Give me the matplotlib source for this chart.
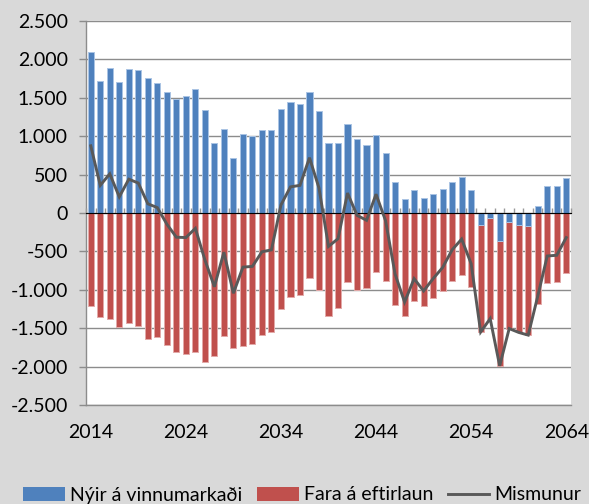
"""Nýir á vinnumarkaði vs. fara á eftirlaun, 2014-2064."""
import numpy as np
import matplotlib
matplotlib.use("Agg")
import matplotlib.pyplot as plt
from matplotlib.patches import Patch
from matplotlib.lines import Line2D
from matplotlib.ticker import FuncFormatter

years = list(range(2014, 2065))

# new entrants to the labour market
nyir = [2090, 1715, 1885, 1700, 1870, 1865, 1760, 1690, 1570, 1490,
        1520, 1610, 1335, 905, 1090, 710, 1030, 1005, 1085, 1075,
        1350, 1440, 1425, 1570, 1325, 905, 905, 1160, 970, 885,
        1010, 785, 405, 180, 295, 190, 250, 310, 410, 465,
        305, -150, -60, -365, -115, -150, -170, 95, 350, 350, 460]

# retirements
eftirlaun = [-1215, -1355, -1375, -1490, -1430, -1475, -1640, -1620, -1715, -1805,
             -1840, -1810, -1945, -1865, -1600, -1755, -1735, -1700, -1590, -1555,
             -1245, -1100, -1065, -850, -1000, -1340, -1240, -900, -1000, -980,
             -765, -885, -1200, -1340, -1150, -1205, -1105, -1020, -890, -805,
             -965, -1400, -1315, -1625, -1390, -1405, -1420, -1180, -910, -900, -780]

# difference
mismunur = [875, 360, 510, 210, 440, 390, 120, 70, -145, -315,
            -320, -200, -610, -960, -510, -1045, -705, -695, -505, -480,
            105, 340, 360, 720, 325, -435, -335, 260, -30, -95,
            245, -100, -795, -1160, -855, -1015, -855, -710, -480, -340,
            -660, -1550, -1375, -1990, -1505, -1555, -1590, -1085, -560, -550, -320]

year_ticks = [2014, 2024, 2034, 2044, 2054, 2064]

BLUE = "#4f81bd"
RED = "#c0504d"
LINE = "#595959"
GRID = "#8c8c8c"
BG = "#d9d9d9"

plt.rcParams["font.family"] = ["Lato", "DejaVu Sans"]

fig = plt.figure(figsize=(5.89, 5.04), dpi=100, facecolor=BG)
ax = fig.add_axes([86 / 589, 99 / 504, 485 / 589, 384 / 504])
ax.set_facecolor("white")

x = np.arange(len(years))
blue = np.array(nyir)
red = np.array(eftirlaun)
# Excel stacks negatives: red starts below a negative blue bar
red_bottom = np.minimum(blue, 0)

ax.bar(x, red, bottom=red_bottom, width=0.64, color=RED,
       edgecolor="#e3aaa9", linewidth=0.7, zorder=2)
ax.bar(x, blue, width=0.64, color=BLUE,
       edgecolor="#aac4e4", linewidth=0.7, zorder=2)
ax.plot(x, mismunur, color=LINE, linewidth=2.1, zorder=4,
        solid_joinstyle="miter")

ax.set_xlim(-0.5, len(years) - 0.5)
ax.set_ylim(-2500, 2500)
ax.set_yticks(np.arange(-2500, 2501, 500))
ax.yaxis.set_major_formatter(FuncFormatter(lambda v, p: f"{v:,.0f}".replace(",", ".")))
ax.grid(axis="y", color=GRID, linewidth=1.0)
ax.set_axisbelow(True)

ax.set_xticks([years.index(y) for y in year_ticks])
ax.set_xticklabels([str(y) for y in year_ticks])
ax.tick_params(axis="x", length=0, pad=14, labelsize=14, colors="black")
ax.tick_params(axis="y", length=5, width=1, color=GRID, pad=8, labelsize=14)

for side in ("top", "right"):
    ax.spines[side].set_visible(False)
for side in ("left", "bottom"):
    ax.spines[side].set_color(GRID)
    ax.spines[side].set_linewidth(1.0)

# category axis crossing at zero, ticks between the bars
zero = ax.secondary_xaxis(0.5)
zero.set_xticks(np.arange(-0.5, len(years), 1.0))
zero.set_xticklabels([])
zero.tick_params(axis="x", direction="out", length=3.5, width=1.0, color="#9a9a9a")
zero.spines["bottom"].set_color("#9a9a9a")
zero.spines["bottom"].set_linewidth(1.8)
zero.set_zorder(3)

handles = [Patch(facecolor=BLUE), Patch(facecolor=RED),
           Line2D([], [], color=LINE, linewidth=2.1)]
labels = ["Nýir á vinnumarkaði", "Fara á eftirlaun", "Mismunur"]
fig.legend(handles, labels, loc="center", bbox_to_anchor=(0.513, 9 / 504),
           ncol=3, frameon=False, fontsize=14, handlelength=2.15,
           handleheight=0.75, handletextpad=0.26, columnspacing=0.75,
           borderpad=0)

fig.savefig("out.png", dpi=100, facecolor=BG)
